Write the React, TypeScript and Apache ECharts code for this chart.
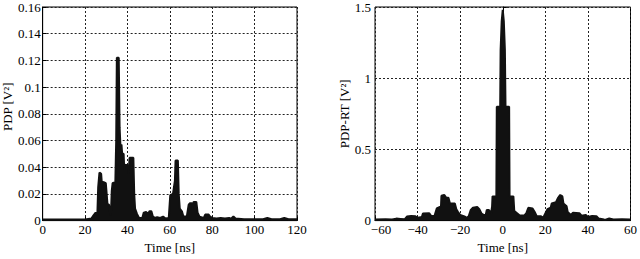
import React, { useEffect, useRef } from "react";
import * as echarts from "echarts";

// Left panel: PDP envelope (time in ns, value in V^2)
const pdpTime = [0, 10, 20, 23, 24, 25, 25.8, 26.2, 26.8, 27.6, 28.1, 28.5, 29.8, 30.2, 30.6, 31.3, 31.8, 32.2, 32.6, 33.0, 34.3, 34.7, 35.0, 35.9, 36.3, 36.7, 37.2, 37.5, 38.2, 38.5, 38.8, 39.5, 39.8, 40.3, 40.6, 41.0, 42.8, 43.2, 43.6, 44.5, 45.5, 47, 47.7, 48.8, 49.8, 50.4, 51.3, 52, 53, 54, 55.5, 56.8, 58, 59.5, 60.2, 61.5, 62.4, 62.7, 63.8, 64.2, 64.7, 65.7, 66.4, 68, 68.9, 69.5, 70.4, 70.8, 71.2, 72.5, 73.1, 74, 76, 76.7, 78.3, 79, 80, 82, 84, 86, 88, 89, 90, 91, 95, 100, 104, 106, 108, 112, 114, 116, 120];
const pdpValue = [0.0008, 0.0008, 0.0008, 0.0015, 0.004, 0.006, 0.004, 0.025, 0.036, 0.035, 0.024, 0.029, 0.028, 0.02, 0.012, 0.012, 0.006, 0.004, 0.022, 0.028, 0.029, 0.06, 0.122, 0.122, 0.07, 0.056, 0.057, 0.05, 0.05, 0.038, 0.042, 0.041, 0.042, 0.041, 0.035, 0.047, 0.047, 0.02, 0.009, 0.005, 0.002, 0.002, 0.006, 0.0065, 0.005, 0.007, 0.007, 0.003, 0.002, 0.0025, 0.002, 0.003, 0.0015, 0.002, 0.019, 0.02, 0.03, 0.045, 0.045, 0.02, 0.009, 0.007, 0.003, 0.003, 0.012, 0.013, 0.013, 0.009, 0.014, 0.014, 0.006, 0.003, 0.002, 0.0045, 0.0045, 0.003, 0.002, 0.0015, 0.002, 0.0015, 0.002, 0.0015, 0.003, 0.0015, 0.001, 0.001, 0.001, 0.002, 0.001, 0.001, 0.002, 0.001, 0.001];

// Right panel: PDP-RT envelope
const rtTime = [-60, -55, -52, -50, -48, -46, -45, -43, -41, -40, -38, -37.5, -34.5, -33.5, -32, -31, -29, -28.8, -27.5, -26.5, -25.5, -24.8, -22.5, -21.8, -21, -20, -18, -17, -16, -15, -14, -12, -11, -10, -9, -8, -7.5, -6.5, -5.5, -5, -4.8, -3, -2.8, -1.2, -1, -0.5, 0, 0.5, 1, 1.3, 3, 3.2, 5, 5.4, 6, 8, 10, 11, 12, 14, 15, 16, 18, 19, 20, 21, 22.5, 23, 25, 26, 27, 28, 28.5, 30, 30.5, 32, 33, 36, 37, 39, 40, 42, 44, 45, 47, 48, 50, 52, 56, 60];
const rtValue = [0.008, 0.01, 0.008, 0.014, 0.012, 0.01, 0.028, 0.032, 0.03, 0.02, 0.025, 0.05, 0.052, 0.03, 0.035, 0.085, 0.1, 0.175, 0.18, 0.16, 0.16, 0.12, 0.12, 0.08, 0.06, 0.04, 0.03, 0.02, 0.03, 0.075, 0.09, 0.095, 0.08, 0.05, 0.04, 0.04, 0.075, 0.075, 0.05, 0.1, 0.17, 0.17, 0.8, 0.8, 1.2, 1.4, 1.48, 1.4, 1.2, 0.8, 0.8, 0.17, 0.17, 0.07, 0.06, 0.035, 0.035, 0.05, 0.09, 0.085, 0.06, 0.03, 0.03, 0.02, 0.05, 0.08, 0.09, 0.12, 0.13, 0.16, 0.18, 0.17, 0.12, 0.1, 0.06, 0.04, 0.055, 0.052, 0.035, 0.04, 0.025, 0.032, 0.03, 0.015, 0.01, 0.005, 0.015, 0.008, 0.01, 0.008];

const FONT = "'Liberation Serif', 'Times New Roman', serif";

const pair = (xs: number[], ys: number[]) => xs.map((x, i) => [x, ys[i]]);
const minus = (v: number) => String(v).replace("-", "\u2212");

export default function App() {
  const ref = useRef<HTMLDivElement>(null);
  useEffect(() => {
    if (!ref.current) return;
    const chart = echarts.init(ref.current, undefined, { renderer: "svg" });
    const labelStyle = { color: "#000", fontFamily: FONT, fontSize: 13 };
    const split = { show: true, lineStyle: { color: "#222", type: [2, 2] as any, width: 1 } };
    const tick = { show: true, inside: true, length: 4, lineStyle: { color: "#000" } };
    const axisLine = { show: true, lineStyle: { color: "#000", width: 1 } };
    const nameStyle = { color: "#000", fontFamily: FONT, fontSize: 13 };
    chart.setOption({
      animation: false,
      backgroundColor: "#fff",
      grid: [
        { left: 42, top: 7, width: 255, height: 222, show: true, borderColor: "#000", borderWidth: 1, backgroundColor: "#fff" },
        { left: 375, top: 7, width: 257, height: 222, show: true, borderColor: "#000", borderWidth: 1, backgroundColor: "#fff" },
      ],
      xAxis: [
        {
          type: "value", gridIndex: 0, min: 0, max: 120, interval: 20,
          name: "Time [ns]", nameLocation: "middle", nameGap: 17,
          nameTextStyle: nameStyle,
          axisLine, axisTick: tick, splitLine: split,
          axisLabel: { ...labelStyle, margin: 4, lineHeight: 10 },
        },
        {
          type: "value", gridIndex: 1, min: -60, max: 60, interval: 20,
          name: "Time [ns]", nameLocation: "middle", nameGap: 17,
          nameTextStyle: nameStyle,
          axisLine, axisTick: tick, splitLine: split,
          axisLabel: {
            ...labelStyle, margin: 4, lineHeight: 10,
            formatter: (v: number) => (v === -60 ? "{m|" + minus(v) + "}" : minus(v)),
            rich: { m: { ...labelStyle, lineHeight: 10, padding: [0, 0, 0, 12] } },
          },
        },
      ],
      yAxis: [
        {
          type: "value", gridIndex: 0, min: 0, max: 0.16, interval: 0.02,
          name: "PDP [V\u00b2]", nameLocation: "middle", nameGap: 28, nameRotate: 90,
          nameTextStyle: { ...nameStyle, padding: [0, 0, 0, 14] },
          axisLine, axisTick: tick, splitLine: split,
          axisLabel: { ...labelStyle, margin: 2, lineHeight: 9 },
        },
        {
          type: "value", gridIndex: 1, min: 0, max: 1.5, interval: 0.5,
          name: "PDP-RT [V\u00b2]", nameLocation: "middle", nameGap: 22, nameRotate: 90,
          nameTextStyle: nameStyle,
          axisLine, axisTick: tick, splitLine: split,
          axisLabel: { ...labelStyle, margin: 4, lineHeight: 9 },
        },
      ],
      series: [
        {
          type: "line", xAxisIndex: 0, yAxisIndex: 0, data: pair(pdpTime, pdpValue),
          showSymbol: false, lineStyle: { color: "#111", width: 2 },
          areaStyle: { color: "#111", opacity: 1 }, z: 3,
        },
        {
          type: "line", xAxisIndex: 1, yAxisIndex: 1, data: pair(rtTime, rtValue),
          showSymbol: false, lineStyle: { color: "#111", width: 2 },
          areaStyle: { color: "#111", opacity: 1 }, z: 3,
        },
      ],
    });
    return () => chart.dispose();
  }, []);
  return (
    <div
      ref={ref}
      style={{ position: "fixed", left: 0, top: 0, width: 640, height: 259, background: "#fff" }}
    />
  );
}
